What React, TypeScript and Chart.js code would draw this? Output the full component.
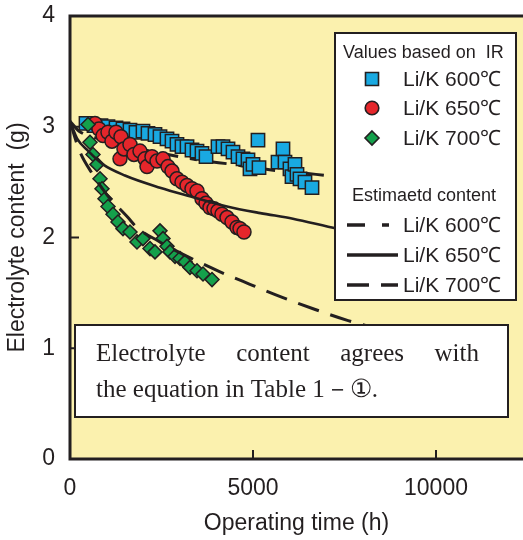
import React, { useEffect, useRef } from "react";
import { Chart, registerables } from "chart.js";

Chart.register(...registerables);

// ---- data ----
const xTickValues = [0, 5000, 10000];
const yTickValues = [0, 1, 2, 3, 4];

const ir600Time = [437, 656, 847, 1038, 1257, 1448, 1639, 1803, 1994, 2131, 2322, 2459, 2650, 2787, 2923, 3060, 3197, 3333, 3470, 3606, 3716, 4043, 4180, 4317, 4453, 4590, 4727, 4863, 4918, 5000, 5136, 5164, 5683, 5819, 5874, 6010, 6065, 6147, 6202, 6284, 6420, 6612];
const ir600Value = [3.03, 3.01, 3.01, 3.0, 2.99, 2.98, 2.97, 2.95, 2.96, 2.94, 2.93, 2.91, 2.89, 2.87, 2.84, 2.82, 2.82, 2.79, 2.78, 2.76, 2.73, 2.82, 2.82, 2.8, 2.77, 2.73, 2.71, 2.7, 2.62, 2.66, 2.88, 2.63, 2.68, 2.8, 2.68, 2.62, 2.55, 2.66, 2.57, 2.53, 2.5, 2.45];

const ir650Time = [683, 792, 902, 1038, 1147, 1257, 1393, 1366, 1475, 1639, 1748, 1912, 2049, 2104, 2240, 2377, 2541, 2677, 2787, 2923, 3060, 3197, 3333, 3470, 3606, 3716, 3825, 3934, 4043, 4153, 4290, 4426, 4562, 4645, 4754];
const ir650Value = [3.03, 2.98, 2.92, 2.95, 2.87, 2.95, 2.91, 2.71, 2.8, 2.84, 2.75, 2.78, 2.71, 2.64, 2.73, 2.69, 2.71, 2.64, 2.6, 2.53, 2.5, 2.47, 2.44, 2.42, 2.35, 2.31, 2.27, 2.26, 2.24, 2.21, 2.18, 2.14, 2.09, 2.08, 2.05];

const ir700Time = [492, 546, 628, 738, 820, 874, 956, 1038, 1175, 1311, 1448, 1639, 1830, 1994, 2186, 2322, 2459, 2541, 2650, 2732, 2869, 3006, 3142, 3278, 3470, 3634, 3880];
const ir700Value = [3.02, 2.86, 2.75, 2.66, 2.53, 2.44, 2.35, 2.28, 2.21, 2.14, 2.08, 2.05, 1.96, 1.99, 1.9, 1.87, 2.06, 1.99, 1.92, 1.87, 1.83, 1.81, 1.78, 1.73, 1.7, 1.67, 1.62];

const est600Time = [0, 250, 700, 1500, 2500, 3500, 4440, 5500, 6720, 7240, 9000, 11000, 11800];
const est600Value = [3.05, 2.96, 2.9, 2.83, 2.76, 2.7, 2.66, 2.61, 2.57, 2.55, 2.49, 2.43, 2.41];

const est650Time = [0, 200, 500, 900, 1500, 2460, 3300, 4290, 5200, 6090, 7300, 9000, 11000, 11800];
const est650Value = [3.05, 2.89, 2.78, 2.66, 2.56, 2.45, 2.37, 2.28, 2.22, 2.17, 2.08, 1.98, 1.87, 1.83];

const est700Time = [0, 250, 600, 1000, 1585, 1830, 2400, 3200, 4100, 4900, 5800, 6700, 7600, 8500, 10000, 11800];
const est700Value = [3.05, 2.79, 2.58, 2.39, 2.18, 2.09, 1.97, 1.83, 1.69, 1.58, 1.46, 1.35, 1.25, 1.17, 1.04, 0.89];

const legendIrTitle = "Values based on  IR";
const legendEstTitle = "Estimaetd content";
const seriesLabels = ["Li/K 600℃", "Li/K 650℃", "Li/K 700℃"];
const noteLine1 = ["Electrolyte", "content", "agrees", "with"];
const noteLine2 = "the equation in Table 1－①.";

// ---- styles ----
const BG = "#FBF1AE";
const INK = "#231F20";
const BLUE = "#19A9E1";
const RED = "#E5262B";
const GREEN = "#14A04B";
const SANS = "'Liberation Sans', Arial, Helvetica, sans-serif";
const SERIF = "'Liberation Serif', 'Times New Roman', serif";
const DASH600 = [18, 12, 7, 12];
const DASH700 = [22, 12];

const pts = (t: number[], v: number[]) => t.map((x, i) => ({ x, y: v[i] }));

function drawMarker(ctx: CanvasRenderingContext2D, kind: string, x: number, y: number) {
  ctx.save();
  ctx.lineWidth = 1.6;
  ctx.strokeStyle = INK;
  ctx.beginPath();
  if (kind === "square") {
    ctx.fillStyle = BLUE;
    ctx.rect(x - 6.5, y - 6.5, 13, 13);
  } else if (kind === "circle") {
    ctx.fillStyle = RED;
    ctx.arc(x, y, 6.8, 0, Math.PI * 2);
  } else {
    ctx.fillStyle = GREEN;
    ctx.moveTo(x, y - 7);
    ctx.lineTo(x + 7, y);
    ctx.lineTo(x, y + 7);
    ctx.lineTo(x - 7, y);
    ctx.closePath();
  }
  ctx.fill();
  ctx.stroke();
  ctx.restore();
}

const decor = {
  id: "decor",
  beforeDraw(chart: any) {
    const { ctx, chartArea: a } = chart;
    ctx.save();
    ctx.fillStyle = "#ffffff";
    ctx.fillRect(0, 0, chart.width, chart.height);
    ctx.fillStyle = BG;
    ctx.fillRect(a.left, a.top, chart.width - a.left, a.bottom - a.top);
    ctx.restore();
  },
  afterDatasetsDraw(chart: any) {
    const { ctx, chartArea: a, scales } = chart;
    const xs = scales.x;
    const ys = scales.y;
    ctx.save();
    // inner ticks
    ctx.strokeStyle = INK;
    ctx.lineWidth = 2;
    ys.ticks.forEach((t: any) => {
      if (t.value <= ys.min || t.value >= ys.max) return;
      const p = ys.getPixelForValue(t.value);
      ctx.beginPath();
      ctx.moveTo(a.left, p);
      ctx.lineTo(a.left + 9, p);
      ctx.stroke();
    });
    xs.ticks.forEach((t: any) => {
      if (t.value <= xs.min || t.value >= xs.max) return;
      const p = xs.getPixelForValue(t.value);
      ctx.beginPath();
      ctx.moveTo(p, a.bottom);
      ctx.lineTo(p, a.bottom - 9);
      ctx.stroke();
    });
    // frame (left, top, bottom)
    ctx.lineWidth = 3;
    ctx.beginPath();
    ctx.moveTo(chart.width + 2, a.top);
    ctx.lineTo(a.left, a.top);
    ctx.lineTo(a.left, a.bottom);
    ctx.lineTo(chart.width + 2, a.bottom);
    ctx.stroke();

    // legend box
    ctx.fillStyle = "#ffffff";
    ctx.fillRect(335, 33, 181, 267);
    ctx.lineWidth = 2;
    ctx.strokeStyle = INK;
    ctx.strokeRect(335, 33, 181, 267);
    ctx.fillStyle = INK;
    ctx.textBaseline = "middle";
    ctx.textAlign = "left";
    ctx.font = `18px ${SANS}`;
    ctx.fillText(legendIrTitle, 343, 53);
    ctx.fillText(legendEstTitle, 352, 196);
    ctx.font = `21px ${SANS}`;
    const markerKinds = ["square", "circle", "diamond"];
    const markerY = [79, 108, 138];
    markerKinds.forEach((k, i) => {
      drawMarker(ctx, k, 372, markerY[i]);
      ctx.fillStyle = INK;
      ctx.fillText(seriesLabels[i], 403, markerY[i] + 1);
    });
    const lineY = [225, 255, 285];
    const dashes = [DASH600, [], DASH700];
    lineY.forEach((y, i) => {
      ctx.save();
      ctx.lineWidth = 3.5;
      ctx.strokeStyle = INK;
      ctx.setLineDash(i === 0 ? [18, 17, 8, 20] : dashes[i]);
      ctx.beginPath();
      ctx.moveTo(347, y);
      ctx.lineTo(i === 0 ? 389 : 398, y);
      ctx.stroke();
      ctx.restore();
      ctx.fillStyle = INK;
      ctx.fillText(seriesLabels[i], 403, y + 1);
    });

    // annotation box
    ctx.fillStyle = "#ffffff";
    ctx.fillRect(75, 325, 433, 92);
    ctx.lineWidth = 2;
    ctx.strokeStyle = INK;
    ctx.strokeRect(75, 325, 433, 92);
    ctx.fillStyle = INK;
    ctx.font = `25px ${SERIF}`;
    ctx.textBaseline = "alphabetic";
    const x0 = 96;
    const x1 = 479;
    const widths = noteLine1.map((w) => ctx.measureText(w).width);
    const total = widths.reduce((s, w) => s + w, 0);
    const gap = (x1 - x0 - total) / (noteLine1.length - 1);
    let cx = x0;
    noteLine1.forEach((w, i) => {
      ctx.fillText(w, cx, 361);
      cx += widths[i] + gap;
    });
    ctx.fillText(noteLine2, x0, 397);
    ctx.restore();
  },
};

export default function App() {
  const ref = useRef<HTMLCanvasElement>(null);
  useEffect(() => {
    document.body.style.margin = "0";
    document.body.style.overflow = "hidden";
    const font = { family: SANS, size: 23 };
    const chart = new Chart(ref.current as HTMLCanvasElement, {
      type: "scatter",
      data: {
        datasets: [
          {
            type: "line",
            data: pts(est650Time, est650Value),
            borderColor: INK,
            borderWidth: 2.6,
            pointRadius: 0,
            cubicInterpolationMode: "monotone",
            order: 0,
          } as any,
          {
            type: "line",
            data: pts(est700Time, est700Value),
            borderColor: INK,
            borderWidth: 3,
            borderDash: DASH700,
            pointRadius: 0,
            cubicInterpolationMode: "monotone",
            order: 0,
          } as any,
          {
            data: pts(ir700Time, ir700Value),
            pointStyle: "rectRot",
            pointRadius: 7,
            backgroundColor: GREEN,
            borderColor: INK,
            borderWidth: 1.5,
            order: 1,
          },
          {
            data: pts(ir650Time, ir650Value),
            pointStyle: "circle",
            pointRadius: 7,
            backgroundColor: RED,
            borderColor: INK,
            borderWidth: 1.5,
            order: 2,
          },
          {
            data: pts(ir600Time, ir600Value),
            pointStyle: "rect",
            pointRadius: 9.4,
            backgroundColor: BLUE,
            borderColor: INK,
            borderWidth: 1.5,
            order: 3,
          },
          {
            type: "line",
            data: pts(est600Time, est600Value),
            borderColor: INK,
            borderWidth: 3,
            borderDash: DASH600,
            pointRadius: 0,
            cubicInterpolationMode: "monotone",
            order: 4,
          } as any,
        ],
      },
      options: {
        responsive: false,
        animation: false,
        devicePixelRatio: 1,
        layout: { autoPadding: false, padding: { top: 16, right: 0, bottom: 0, left: 0 } },
        plugins: { legend: { display: false }, tooltip: { enabled: false } },
        scales: {
          x: {
            type: "linear",
            min: 0,
            max: 12377,
            afterBuildTicks: (s: any) => {
              s.ticks = xTickValues.map((value) => ({ value }));
            },
            afterFit: (s: any) => {
              s.height = 81;
              s.paddingLeft = 0;
              s.paddingRight = 0;
            },
            grid: { display: false, drawTicks: false },
            border: { display: false },
            ticks: { padding: 16, font, color: INK, maxRotation: 0, autoSkip: false, callback: (v: any) => String(v) },
            title: { display: true, text: "Operating time (h)", font, color: INK, padding: { top: 0, bottom: 3 } },
          },
          y: {
            type: "linear",
            min: 0,
            max: 4,
            afterBuildTicks: (s: any) => {
              s.ticks = yTickValues.map((value) => ({ value }));
            },
            afterFit: (s: any) => {
              s.width = 70;
              s.paddingTop = 0;
              s.paddingBottom = 0;
            },
            grid: { display: false, drawTicks: false },
            border: { display: false },
            ticks: { padding: 15, font, color: INK, autoSkip: false, callback: (v: any) => String(v) },
            title: { display: true, text: "Electrolyte content  (g)", font, color: INK, padding: { top: 4, bottom: 0 } },
          },
        },
      },
      plugins: [decor],
    });
    return () => chart.destroy();
  }, []);
  return <canvas ref={ref} width={523} height={540} style={{ display: "block" }} />;
}
